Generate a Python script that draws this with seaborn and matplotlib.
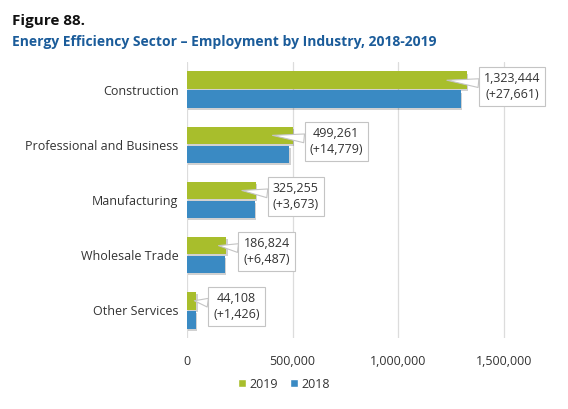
import matplotlib
matplotlib.use("Agg")
import matplotlib.pyplot as plt
import matplotlib.patheffects as pe
from matplotlib.patches import Patch
from matplotlib.transforms import ScaledTranslation
import seaborn as sns
import pandas as pd

industries = ["Construction", "Professional and Business", "Manufacturing",
              "Wholesale Trade", "Other Services"]
emp_2019 = [1323444, 499261, 325255, 186824, 44108]
change = [27661, 14779, 3673, 6487, 1426]
emp_2018 = [a - b for a, b in zip(emp_2019, change)]
years = ["2019", "2018"]
xticks = [0, 500000, 1000000, 1500000]

GREEN = "#a8be2c"
BLUE = "#3a8ac3"
TXT = "#333333"

sns.set_theme(style="white")
plt.rcParams["font.family"] = ["Open Sans", "DejaVu Sans"]

df = pd.DataFrame({
    "Industry": industries * 2,
    "Employment": emp_2019 + emp_2018,
    "Year": ["2019"] * 5 + ["2018"] * 5,
})

fig = plt.figure(figsize=(5.68, 4.09), dpi=100)
ax = fig.add_axes([0.329, 0.174, 0.596, 0.674])

sns.barplot(data=df, y="Industry", x="Employment", hue="Year", hue_order=years,
            order=industries, palette={"2019": GREEN, "2018": BLUE},
            orient="h", width=0.69, gap=0.08, ax=ax, legend=False,
            saturation=1, linewidth=0, edgecolor="none")

for p in ax.patches:
    p.set_linewidth(0)
    p.set_edgecolor("none")
    p.set_path_effects([pe.SimplePatchShadow(offset=(1.0, -1.5), shadow_rgbFace="black",
                                             alpha=0.18),
                        pe.Normal()])

ax.set_xlim(0, 1600000)
ax.set_ylim(4.5, -0.5)
ax.set_xticks(xticks)
ax.set_xticklabels([f"{v:,}" for v in xticks])
ax.tick_params(axis="x", labelsize=9, colors=TXT, length=0, pad=12)
ax.tick_params(axis="y", labelsize=9, colors=TXT, length=0, pad=6)
ax.set_xlabel("")
ax.set_ylabel("")
ax.grid(axis="x", color="#dcdcdc", linewidth=0.9)
ax.set_axisbelow(True)
for s in ax.spines.values():
    s.set_visible(False)

px_per_unit = 0.596 * 568 / 1600000
for i, (v, c) in enumerate(zip(emp_2019, change)):
    bar_px = v * px_per_unit
    back = min(20, bar_px * 0.2)
    tr = ax.transData + ScaledTranslation(-back / 100, 0, fig.dpi_scale_trans)
    gy = i - 0.1725
    ax.annotate(f"{v:,}\n(+{c:,})", xy=(v, gy), xycoords=tr,
                xytext=(back + 12 + 5, -6), textcoords="offset pixels",
                ha="left", va="center", multialignment="center",
                fontsize=9, color=TXT, linespacing=1.3,
                bbox=dict(boxstyle="square,pad=0.4", fc="white", ec="#c4c4c4", lw=0.8),
                arrowprops=dict(arrowstyle="wedge,tail_width=0.7,shrink_factor=0.5",
                                fc="white", ec="#c4c4c4", lw=0.8,
                                shrinkA=0, shrinkB=0),
                zorder=5)

fig.text(0.021, 0.965, "Figure 88.", fontsize=11, fontweight="bold",
         color="#111111", va="top")
fig.text(0.021, 0.915, "Energy Efficiency Sector \u2013 Employment by Industry, 2018-2019",
         fontsize=10, fontweight="bold", color="#1b5c9a", va="top")

handles = [Patch(facecolor=GREEN, label="2019"), Patch(facecolor=BLUE, label="2018")]
fig.legend(handles=handles, loc="center", bbox_to_anchor=(0.5, 0.061), ncol=2,
           frameon=False, fontsize=9, handlelength=0.6, handleheight=0.6,
           handletextpad=0.3, columnspacing=1.0, labelcolor=TXT)

fig.savefig("out.png", dpi=100)
